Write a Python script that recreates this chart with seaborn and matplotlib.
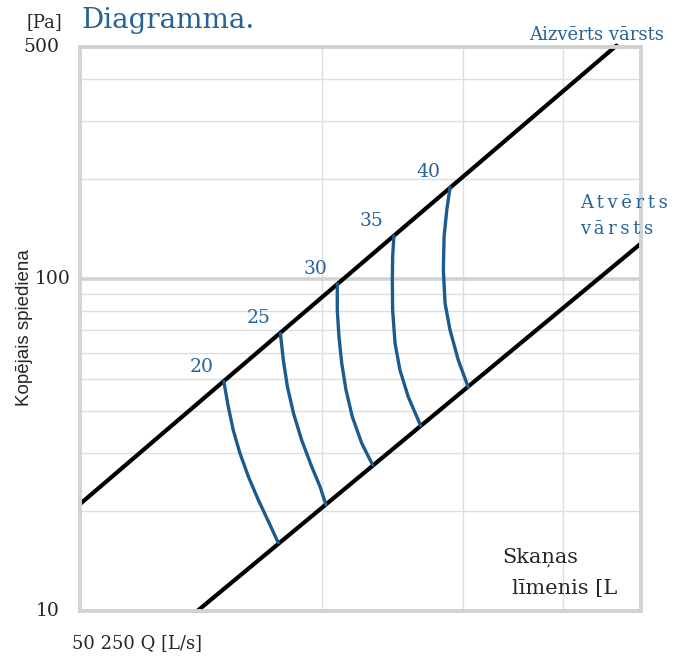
import matplotlib
matplotlib.use("Agg")
import matplotlib.pyplot as plt
import matplotlib.ticker as mticker
import numpy as np
import pandas as pd
import seaborn as sns

# boundary lines (Q in L/s, P in Pa)
closed_q = [100, 466]
closed_p = [21, 505]
open_q = [140, 500]
open_p = [10, 128]

# sound level curves (top -> bottom)
levels = [20, 25, 30, 35, 40]
curve_q = {
	20: [151.1, 153.0, 155.2, 158.2, 162.1, 166.8, 171.7, 176.6],
	25: [177.7, 179.2, 181.3, 184.5, 188.9, 194.4, 199.1, 202.5],
	30: [209.2, 209.2, 210.2, 211.9, 214.5, 218.4, 224.4, 231.6],
	35: [246.1, 245.2, 245.0, 245.2, 246.9, 250.4, 256.4, 265.8],
	40: [289.1, 286.4, 284.2, 283.6, 285.0, 289.1, 296.0, 304.6],
}
curve_p = {
	20: [49.1, 41.3, 35.1, 29.9, 25.4, 21.6, 18.6, 16.06],
	25: [68.6, 57.0, 47.4, 39.4, 32.7, 27.2, 23.7, 20.9],
	30: [96.6, 80.6, 67.0, 55.7, 46.3, 38.5, 32.0, 27.5],
	35: [134.8, 116.7, 99.3, 80.6, 64.0, 53.2, 44.2, 36.1],
	40: [188.9, 161.4, 134.1, 106.4, 84.5, 70.2, 57.0, 47.2],
}

y_ticks = [10, 100, 500]
y_minor = [20, 30, 40, 50, 60, 70, 80, 90, 200, 300, 400]
x_minor = [200, 300, 400]

BLUE = "#1b5b8f"
TEXT_BLUE = "#24639a"
GRID = "#dedede"
FRAME = "#d0d3d4"

sns.set_style("white")
plt.rcParams["font.family"] = ["DejaVu Serif"]

W, H = 686, 658
fig = plt.figure(figsize=(W / 100, H / 100), dpi=100)
ax = fig.add_axes([80 / W, 1 - 611 / H, 561 / W, 564 / H])

# build long table for the curves
rows = []
for lv in levels:
	for q, p in zip(curve_q[lv], curve_p[lv]):
		rows.append({"level": lv, "Q": q, "P": p})
curves = pd.DataFrame(rows)

sns.lineplot(x=closed_q, y=closed_p, color="black", lw=3, ax=ax, clip_on=False, solid_capstyle="round")
sns.lineplot(x=open_q, y=open_p, color="black", lw=3, ax=ax, clip_on=False, solid_capstyle="round")
sns.lineplot(data=curves, x="Q", y="P", units="level", estimator=None, sort=False,
			 color=BLUE, lw=2.4, ax=ax, legend=False, solid_joinstyle="round")

ax.set_xscale("log")
ax.set_yscale("log")
ax.set_xlim(100, 500)
ax.set_ylim(10, 500)

ax.set_xticks([])
ax.set_xticks(x_minor, minor=True)
ax.set_yticks(y_ticks)
ax.set_yticks(y_minor, minor=True)
ax.xaxis.set_minor_formatter(mticker.NullFormatter())
ax.yaxis.set_minor_formatter(mticker.NullFormatter())
ax.set_yticklabels([])
ax.tick_params(which="both", length=0)
ax.grid(which="minor", color=GRID, lw=1.0)
ax.grid(which="major", axis="y", color=FRAME, lw=2.6)
ax.set_axisbelow(True)
ax.set_xlabel("")
ax.set_ylabel("")

for s in ax.spines.values():
	s.set_color(FRAME)
	s.set_linewidth(2.8)

# y tick labels
ytr = ax.get_yaxis_transform()
ax.text(-0.036, 500, "500", transform=ytr, ha="right", va="center", fontsize=13.5)
ax.text(-0.016, 100, "100", transform=ytr, ha="right", va="center", fontsize=13.5)
ax.text(-0.036, 10, "10", transform=ytr, ha="right", va="center", fontsize=13.5)

# level labels above the top ends of the curves
for lv in levels:
	ax.annotate(str(lv), (curve_q[lv][0], curve_p[lv][0]), xytext=(-22, 15),
				textcoords="offset pixels", ha="center", va="center",
				fontsize=13.5, color=TEXT_BLUE)

def ftext(x, y, s, **kw):
	fig.text(x / W, 1 - y / H, s, **kw)

ftext(81, 28, "Diagramma.", fontsize=20, color=TEXT_BLUE, va="baseline")
ftext(62, 27, "[Pa]", fontsize=13, ha="right", va="baseline")
ftext(664, 40, "Aizvērts vārsts", fontsize=13, color=TEXT_BLUE, ha="right", va="baseline")
ftext(580, 208, "A\u2009t\u2009v\u2009ē\u2009r\u2009t\u2009s", fontsize=13, color=TEXT_BLUE, va="baseline")
ftext(580, 234, "v\u2009ā\u2009r\u2009s\u2009t\u2009s", fontsize=13, color=TEXT_BLUE, va="baseline")
ftext(502, 562, "Skaņas", fontsize=15, va="baseline")
ftext(512, 594, "līmenis [L", fontsize=15, va="baseline")
ftext(72, 648, "50 250 Q [L/s]", fontsize=13, va="baseline")
ftext(25, 328, "Kopējais spiediena", fontsize=13.5, rotation=90, ha="center", va="center",
	  family=["Liberation Sans", "DejaVu Sans"])

fig.savefig("out.png", dpi=100)
plt.close(fig)
